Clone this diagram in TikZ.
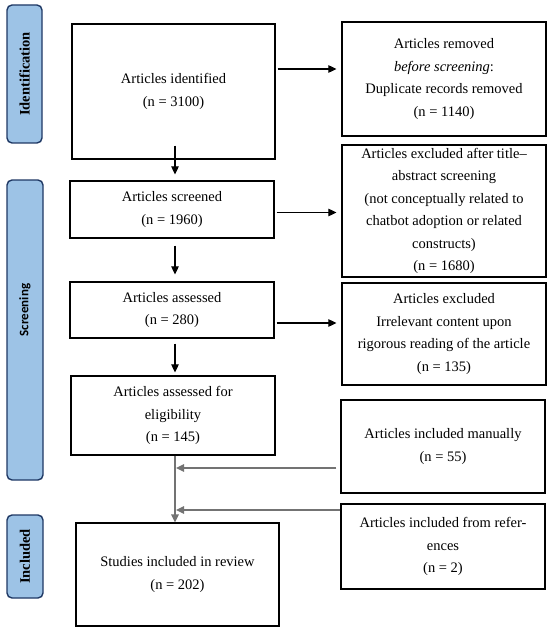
\documentclass[tikz,border=0pt]{standalone}
\usepackage{fontspec}
\setmainfont{Liberation Serif}
\newfontfamily\stagesans{Carlito}
\usepackage{tikz}
\usetikzlibrary{arrows.meta,positioning,calc}
\definecolor{stageblue}{RGB}{157,195,230}
\definecolor{stageline}{RGB}{31,56,100}
\tikzset{
  >={Triangle[length=8pt,width=7.5pt]},
  flowbox/.style={rectangle, draw, line width=1.2pt, fill=white, align=center, inner sep=2pt,
    font=\fontsize{14.5}{22.4}\selectfont},
  stage/.style={rectangle, draw=stageline, line width=1.4pt, fill=stageblue, rounded corners=5pt},
  stagetext/.style={rotate=90, font=\fontsize{14.5}{16}\selectfont\bfseries},
  tr/.style={->, line width=1.1pt},
  grayline/.style={->, line width=1.3pt, draw=black!55}
}
\begin{document}
\begin{tikzpicture}[x=1pt, y=-1pt]
\useasboundingbox (0,0) rectangle (550,631);

% --- Stage labels ---
\node[stage, minimum width=35pt, minimum height=138pt] (identStage) at (24.5,74) {};
\node[stagetext] at (identStage.center) {Identification};
\node[stage, minimum width=36pt, minimum height=300pt] (screenStage) at (25,330) {};
\node[stagetext, font=\fontsize{13}{15}\selectfont\stagesans\bfseries] at ([yshift=20pt]screenStage.center) {Screening};
\node[stage, minimum width=36pt, minimum height=83pt] (inclStage) at (25,556.5) {};
\node[stagetext] at (inclStage.center) {Included};

% --- Main column ---
\node[flowbox, minimum width=203pt, minimum height=135pt] (ident) at (173.5,91.5) {Articles identified\\(n = 3100)};
\node[flowbox, minimum width=204pt, minimum height=57pt] (screened) at (172,209.5) {Articles screened\\(n = 1960)};
\node[flowbox, minimum width=204pt, minimum height=56pt] (assessed) at (172,310) {Articles assessed\\(n = 280)};
\node[flowbox, minimum width=204pt, minimum height=79pt] (elig) at (173,415.5) {Articles assessed for\\eligibility\\(n = 145)};
\node[flowbox, minimum width=203pt, minimum height=103pt] (incl) at (177.5,574.5) {Studies included in review\\(n = 202)};

% --- Side column ---
\node[flowbox, minimum width=204pt, minimum height=114pt] (removed) at (444,79)
  {Articles removed\\\textit{before screening}:\\Duplicate records removed\\(n = 1140)};
\node[flowbox, minimum width=204pt, minimum height=132pt] (exclTitle) at (444,211)
  {Articles excluded after title--\\abstract screening\\(not conceptually related to\\chatbot adoption or related\\constructs)\\(n = 1680)};
\node[flowbox, minimum width=204pt, minimum height=102pt] (exclRead) at (444,334)
  {Articles excluded\\Irrelevant content upon\\rigorous reading of the article\\(n = 135)};
\node[flowbox, minimum width=204pt, minimum height=93pt] (manual) at (443,446.5)
  {Articles included manually\\(n = 55)};
\node[flowbox, minimum width=204pt, minimum height=85pt] (refs) at (443,546.5)
  {Articles included from refer-\\ences\\(n = 2)};

% Downward flow
\coordinate (spine) at ([xshift=2pt]elig.south);
\draw[tr, shorten <=-14pt, shorten >=6pt] (spine |- ident.south) -- (spine |- screened.north);
\draw[tr, shorten <=7pt, shorten >=7pt] (spine |- screened.south) -- (spine |- assessed.north);
\draw[tr, shorten <=5pt, shorten >=3pt] (spine |- assessed.south) -- (spine |- elig.north);
\draw[grayline] (spine) -- (spine |- incl.north);

% Exclusions to the right
\draw[tr, shorten <=2pt, shorten >=5pt] ([yshift=22.5pt]ident.east) -- ([yshift=22.5pt]ident.east -| removed.west);
\draw[tr, shorten <=2pt, shorten >=5pt] ([yshift=-3pt]screened.east) -- ([yshift=-3pt]screened.east -| exclTitle.west);
\draw[tr, shorten <=2pt, shorten >=5pt] ([yshift=-13pt]assessed.east) -- ([yshift=-13pt]assessed.east -| exclRead.west);

% Additions from the right
\draw[grayline, shorten <=4pt, shorten >=1pt] ([yshift=-21.5pt]manual.west) -- ([yshift=-21.5pt]manual.west -| spine);
\draw[grayline, shorten >=1pt] ([yshift=36.5pt]refs.west) -- ([yshift=36.5pt]refs.west -| spine);

\end{tikzpicture}
\end{document}
